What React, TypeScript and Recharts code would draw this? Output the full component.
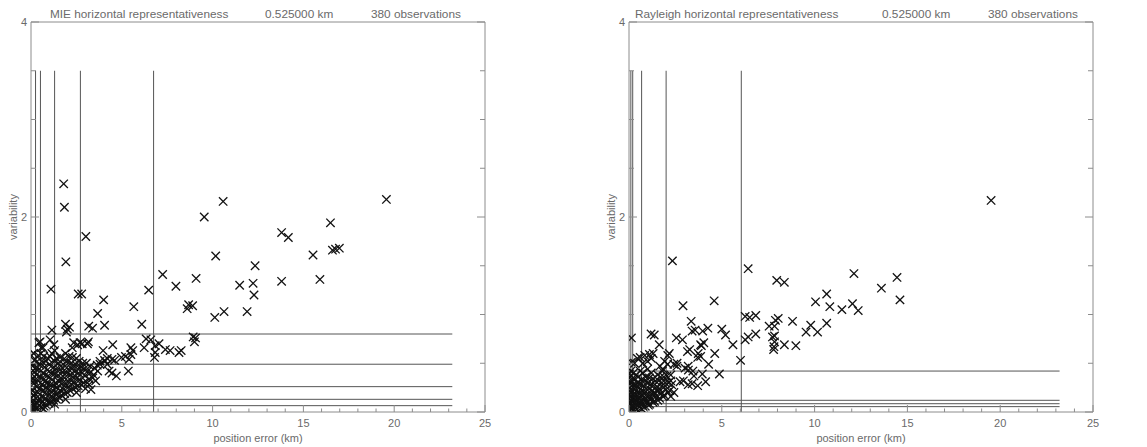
import { ScatterChart, Scatter, XAxis, YAxis, ReferenceLine } from 'recharts';

// axis ticks
const xTicks = [0, 1, 2, 3, 4, 5, 6, 7, 8, 9, 10, 11, 12, 13, 14, 15, 16, 17, 18, 19, 20, 21, 22, 23, 24, 25];
const yTicks = [0, 0.5, 1, 1.5, 2, 2.5, 3, 3.5, 4];
const xLabelStep = 5;
const yLabelStep = 2;

// reference lines (vertical ones run from 0 to lineTop, horizontal ones from 0 to lineEnd)
const lineTop = 3.5;
const lineEnd = 23.2;
const mieVertical = [0.25, 0.52, 1.3, 2.72, 6.75];
const mieHorizontal = [0.8, 0.49, 0.26, 0.13, 0.065];
const rayVertical = [0.1, 0.2, 0.68, 2.0, 6.05];
const rayHorizontal = [0.42, 0.12, 0.085, 0.055];

// MIE observations [position error, variability]
const mieOuter: [number, number][] = [
    [19.57, 2.18], [10.58, 2.16], [9.54, 2.0], [13.8, 1.84], [14.17, 1.79], [16.49, 1.94],
    [15.53, 1.61], [16.6, 1.66], [16.77, 1.67], [16.98, 1.68], [10.17, 1.6], [12.34, 1.5],
    [9.09, 1.37], [11.49, 1.3], [12.23, 1.32], [12.28, 1.2], [13.8, 1.34], [15.91, 1.36],
    [10.63, 1.03], [11.9, 1.03], [10.12, 0.97], [8.68, 1.1], [8.6, 1.06], [8.9, 1.09],
    [8.93, 0.77], [9.06, 0.76], [9.0, 0.72], [8.27, 0.63],
    [1.8, 2.34], [1.84, 2.1], [3.02, 1.8], [1.92, 1.54], [1.1, 1.26], [2.6, 1.21], [2.79, 1.21],
    [4.0, 1.15], [3.67, 1.01], [4.05, 0.89], [3.18, 0.88], [3.39, 0.86], [5.66, 1.08], [6.1, 0.9],
    [6.48, 1.25], [7.25, 1.41], [7.98, 1.29],
];
const mieMiddle: [number, number][] = [
    [1.9, 0.9], [2.0, 0.85], [2.12, 0.87], [1.95, 0.82], [1.15, 0.84], [0.44, 0.71], [0.56, 0.66],
    [1.05, 0.74], [1.26, 0.69], [1.3, 0.63], [3.11, 0.7], [2.57, 0.69], [2.82, 0.7], [2.35, 0.71],
    [3.97, 0.63], [4.5, 0.69], [5.5, 0.66], [5.6, 0.63], [5.5, 0.59], [6.23, 0.66], [6.34, 0.75],
    [6.6, 0.74], [6.84, 0.68], [7.05, 0.7], [7.4, 0.64], [7.66, 0.63], [8.15, 0.61], [6.84, 0.61],
    [6.8, 0.56], [4.98, 0.56], [5.2, 0.57], [5.4, 0.54], [4.46, 0.54], [4.2, 0.49], [4.08, 0.52],
    [3.8, 0.49], [3.67, 0.42], [3.4, 0.35], [3.2, 0.28], [3.56, 0.32], [3.3, 0.23], [4.3, 0.42],
    [4.46, 0.4], [4.7, 0.37], [5.36, 0.42], [4.05, 0.53], [4.2, 0.55], [3.65, 0.48], [3.8, 0.52],
    [4.6, 0.53], [2.27, 0.66], [2.7, 0.71], [3.16, 0.72], [0.66, 0.66], [0.5, 0.72],
];
const mieCluster: [number, number][] = [
    [0.05, 0.02], [0.1, 0.06], [0.08, 0.11], [0.12, 0.17], [0.06, 0.23], [0.15, 0.29], [0.1, 0.35], [0.2, 0.41], [0.08, 0.47], [0.18, 0.53],
    [0.3, 0.04], [0.35, 0.09], [0.28, 0.14], [0.4, 0.2], [0.33, 0.26], [0.42, 0.32], [0.3, 0.38], [0.45, 0.44], [0.34, 0.52], [0.4, 0.58],
    [0.55, 0.05], [0.62, 0.1], [0.58, 0.16], [0.7, 0.22], [0.6, 0.28], [0.72, 0.34], [0.65, 0.4], [0.75, 0.46], [0.6, 0.52], [0.7, 0.57],
    [0.85, 0.07], [0.9, 0.12], [0.82, 0.18], [0.95, 0.24], [0.88, 0.3], [1.0, 0.36], [0.9, 0.43], [1.02, 0.49], [0.92, 0.55],
    [1.1, 0.1], [1.18, 0.15], [1.12, 0.21], [1.25, 0.27], [1.15, 0.33], [1.28, 0.39], [1.2, 0.45], [1.3, 0.52], [1.15, 0.6],
    [1.4, 0.13], [1.48, 0.19], [1.42, 0.25], [1.55, 0.31], [1.45, 0.37], [1.58, 0.43], [1.5, 0.5], [1.6, 0.56],
    [1.7, 0.17], [1.78, 0.23], [1.72, 0.29], [1.85, 0.35], [1.75, 0.41], [1.88, 0.47], [1.8, 0.54], [1.9, 0.6],
    [2.0, 0.2], [2.08, 0.26], [2.02, 0.32], [2.15, 0.38], [2.05, 0.44], [2.2, 0.5], [2.1, 0.57],
    [2.3, 0.24], [2.38, 0.3], [2.32, 0.36], [2.45, 0.42], [2.35, 0.48], [2.5, 0.55],
    [2.6, 0.27], [2.68, 0.33], [2.62, 0.4], [2.75, 0.46], [2.65, 0.52],
    [2.9, 0.3], [2.98, 0.37], [2.92, 0.44], [3.05, 0.5],
    [3.2, 0.34], [3.3, 0.41], [3.25, 0.47],
    [0.02, 0.0], [0.2, 0.01], [0.15, 0.08], [0.7, 0.03], [1.3, 0.08], [1.9, 0.13], [2.5, 0.2], [3.0, 0.24],
];
const mieClusterFill: [number, number][] = [
    [0.0, 0.05], [0.02, 0.14], [0.0, 0.2], [0.03, 0.32], [0.0, 0.4], [0.05, 0.5], [0.02, 0.58],
    [0.2, 0.07], [0.22, 0.19], [0.18, 0.32], [0.24, 0.45], [0.15, 0.6],
    [0.45, 0.07], [0.5, 0.13], [0.48, 0.24], [0.52, 0.36], [0.5, 0.48], [0.55, 0.6],
    [0.72, 0.06], [0.78, 0.14], [0.8, 0.25], [0.75, 0.31], [0.8, 0.38], [0.82, 0.52],
    [1.0, 0.09], [1.05, 0.18], [1.08, 0.28], [1.1, 0.4], [1.05, 0.57],
    [1.25, 0.12], [1.32, 0.2], [1.35, 0.3], [1.38, 0.44], [1.4, 0.55],
    [1.55, 0.15], [1.6, 0.22], [1.65, 0.35], [1.65, 0.47],
    [1.85, 0.19], [1.9, 0.28], [1.95, 0.4], [1.98, 0.52],
    [2.15, 0.22], [2.22, 0.32], [2.25, 0.44], [2.28, 0.56],
    [2.45, 0.25], [2.52, 0.35], [2.55, 0.47],
    [2.78, 0.28], [2.82, 0.4], [2.85, 0.5],
    [3.1, 0.3], [3.12, 0.42], [3.45, 0.38], [3.5, 0.45],
];

// Rayleigh observations [position error, variability]
const rayOuter: [number, number][] = [
    [19.51, 2.17], [12.12, 1.42], [14.44, 1.38], [13.6, 1.27], [14.6, 1.15], [10.65, 1.21],
    [10.05, 1.13], [10.82, 1.08], [11.47, 1.05], [12.04, 1.11], [12.35, 1.04], [10.65, 0.91],
    [9.79, 0.89], [9.54, 0.82], [10.16, 0.82], [8.81, 0.93], [8.99, 0.68], [8.37, 0.69],
    [7.96, 1.35], [8.37, 1.33], [8.04, 0.96], [7.55, 0.88], [7.84, 0.88], [7.84, 0.78],
    [7.84, 0.72], [7.79, 0.64],
    [2.34, 1.55], [6.42, 1.47], [4.59, 1.14], [2.91, 1.09], [3.35, 0.93], [6.26, 0.98],
    [6.5, 0.97], [6.83, 0.99], [7.89, 0.94],
];
const rayMiddle: [number, number][] = [
    [0.13, 0.76], [1.19, 0.8], [1.36, 0.79], [1.63, 0.69], [2.55, 0.76], [2.88, 0.74], [3.4, 0.83],
    [3.56, 0.84], [3.97, 0.83], [4.25, 0.86], [5.0, 0.85], [5.2, 0.79], [5.6, 0.69], [3.9, 0.68],
    [3.15, 0.62], [3.73, 0.6], [4.62, 0.6], [2.42, 0.49], [2.58, 0.47], [2.09, 0.58], [6.01, 0.53],
    [6.26, 0.74], [6.42, 0.77], [6.83, 0.8], [7.73, 0.77], [7.81, 0.67], [0.13, 0.51], [0.6, 0.56],
    [0.85, 0.58], [1.1, 0.59], [3.2, 0.43], [3.5, 0.37], [2.75, 0.31], [3.4, 0.29], [3.7, 0.27],
    [4.13, 0.31], [4.87, 0.39], [2.25, 0.16],
    [3.27, 0.64], [3.86, 0.69], [4.03, 0.71], [3.7, 0.56], [3.86, 0.57], [4.29, 0.49], [2.17, 0.6],
    [1.92, 0.52], [2.08, 0.49], [1.66, 0.47], [1.83, 0.44], [2.59, 0.5], [3.02, 0.45], [3.19, 0.47],
    [3.44, 0.42], [3.95, 0.39], [2.93, 0.32], [3.19, 0.28], [2.25, 0.32], [2.42, 0.2],
    [0.3, 0.5], [0.45, 0.55], [1.0, 0.52], [1.2, 0.55], [1.3, 0.6], [0.75, 0.5],
];
const rayCluster: [number, number][] = [
    [0.03, 0.01], [0.08, 0.04], [0.05, 0.08], [0.12, 0.12], [0.06, 0.16], [0.1, 0.2], [0.04, 0.25], [0.12, 0.3], [0.06, 0.36], [0.1, 0.42],
    [0.22, 0.02], [0.28, 0.06], [0.2, 0.1], [0.3, 0.14], [0.25, 0.18], [0.32, 0.23], [0.22, 0.28], [0.3, 0.34], [0.24, 0.4],
    [0.42, 0.03], [0.48, 0.07], [0.4, 0.11], [0.52, 0.15], [0.45, 0.2], [0.55, 0.25], [0.44, 0.3], [0.5, 0.36],
    [0.65, 0.04], [0.7, 0.08], [0.62, 0.12], [0.75, 0.17], [0.68, 0.22], [0.78, 0.27], [0.66, 0.33], [0.74, 0.4],
    [0.88, 0.06], [0.95, 0.1], [0.86, 0.14], [1.0, 0.19], [0.92, 0.24], [1.02, 0.3], [0.9, 0.36], [1.0, 0.44],
    [1.12, 0.08], [1.18, 0.13], [1.1, 0.17], [1.25, 0.22], [1.15, 0.28], [1.28, 0.34], [1.2, 0.4],
    [1.38, 0.11], [1.45, 0.16], [1.35, 0.2], [1.5, 0.26], [1.42, 0.32], [1.55, 0.38],
    [1.65, 0.14], [1.72, 0.19], [1.62, 0.24], [1.78, 0.3], [1.7, 0.36], [1.8, 0.42],
    [1.92, 0.17], [2.0, 0.23], [1.95, 0.3], [2.05, 0.37],
    [2.2, 0.22], [2.3, 0.28], [2.25, 0.38],
];
const rayClusterFill: [number, number][] = [
    [0.0, 0.03], [0.02, 0.1], [0.0, 0.18], [0.03, 0.22], [0.0, 0.3], [0.02, 0.39],
    [0.15, 0.05], [0.16, 0.14], [0.17, 0.22], [0.15, 0.32],
    [0.35, 0.04], [0.36, 0.1], [0.38, 0.18], [0.36, 0.27], [0.38, 0.38],
    [0.55, 0.05], [0.58, 0.1], [0.6, 0.19], [0.58, 0.29], [0.6, 0.42],
    [0.8, 0.05], [0.82, 0.12], [0.84, 0.2], [0.84, 0.32],
    [1.05, 0.07], [1.05, 0.14], [1.08, 0.24], [1.1, 0.35],
    [1.3, 0.1], [1.3, 0.17], [1.32, 0.27],
    [1.55, 0.12], [1.55, 0.21], [1.6, 0.32],
    [1.82, 0.16], [1.85, 0.25], [1.88, 0.36],
    [2.1, 0.2], [2.12, 0.3],
];

const AXIS = '#8c8c8c';
const TEXT = '#6a6a6a';
const LINE = '#555';
const FONT = '"Liberation Sans", Arial, sans-serif';

const toPoints = (...sets: [number, number][][]) =>
    sets.flat().map(([x, y]) => ({ x, y }));

function Cross({ cx, cy }: any) {
    const s = 4.2;
    return (
        <g stroke="#111" strokeWidth={1.3}>
            <line x1={cx - s} y1={cy - s} x2={cx + s} y2={cy + s} />
            <line x1={cx - s} y1={cy + s} x2={cx + s} y2={cy - s} />
        </g>
    );
}

function BottomTick({ x, y, payload }: any) {
    const v = payload.value;
    const major = v % xLabelStep === 0;
    return (
        <g>
            <line x1={x} x2={x} y1={y} y2={y - (major ? 7 : 3.5)} stroke={AXIS} />
            {major && (
                <text x={x} y={y + 15} textAnchor="middle" fontSize={11} fill={TEXT} fontFamily={FONT}>{v}</text>
            )}
        </g>
    );
}

function TopTick({ x, y, payload }: any) {
    const major = payload.value % xLabelStep === 0;
    return <line x1={x} x2={x} y1={y} y2={y + (major ? 6 : 3)} stroke={AXIS} />;
}

function LeftTick({ x, y, payload }: any) {
    const v = payload.value;
    const major = v % yLabelStep === 0;
    return (
        <g>
            <line x1={x} x2={x + (major ? 8 : 5)} y1={y} y2={y} stroke={AXIS} />
            {major && (
                <text x={x - 4} y={y + 4} textAnchor="end" fontSize={11} fill={TEXT} fontFamily={FONT}>{v}</text>
            )}
        </g>
    );
}

function RightTick({ x, y, payload }: any) {
    const major = payload.value % yLabelStep === 0;
    return <line x1={x} x2={x - (major ? 8 : 5)} y1={y} y2={y} stroke={AXIS} />;
}

interface PanelProps {
    left: number;
    width: number;
    plotLeft: number;
    plotRight: number;
    title: [string, string, string];
    titleX: [number, number, number];
    points: { x: number; y: number }[];
    vertical: number[];
    horizontal: number[];
}

const H = 447;
const PLOT_TOP = 22;
const PLOT_BOTTOM = 412;

function Panel({ left, width, plotLeft, plotRight, title, titleX, points, vertical, horizontal }: PanelProps) {
    const margin = {
        top: PLOT_TOP - 10,
        bottom: H - PLOT_BOTTOM - 30,
        left: plotLeft - 25,
        right: width - plotRight - 10,
    };
    const cx = (plotLeft + plotRight) / 2;
    const cy = (PLOT_TOP + PLOT_BOTTOM) / 2;
    return (
        <div style={{ position: 'absolute', left, top: 0, width, height: H }}>
            <ScatterChart width={width} height={H} margin={margin}>
                <XAxis xAxisId={0} type="number" dataKey="x" domain={[0, 25]} ticks={xTicks} interval={0}
                    height={30} tickSize={0} tickMargin={0} tickLine={false}
                    axisLine={{ stroke: AXIS }} tick={<BottomTick />} allowDataOverflow />
                <XAxis xAxisId="top" orientation="top" type="number" domain={[0, 25]} ticks={xTicks} interval={0}
                    height={10} tickSize={0} tickMargin={0} tickLine={false}
                    axisLine={{ stroke: AXIS }} tick={<TopTick />} allowDataOverflow />
                <YAxis yAxisId={0} type="number" dataKey="y" domain={[0, 4]} ticks={yTicks} interval={0}
                    width={25} tickSize={0} tickMargin={0} tickLine={false}
                    axisLine={{ stroke: AXIS }} tick={<LeftTick />} allowDataOverflow />
                <YAxis yAxisId="right" orientation="right" type="number" domain={[0, 4]} ticks={yTicks} interval={0}
                    width={10} tickSize={0} tickMargin={0} tickLine={false}
                    axisLine={{ stroke: AXIS }} tick={<RightTick />} allowDataOverflow />
                {vertical.map((v) => (
                    <ReferenceLine key={'v' + v} segment={[{ x: v, y: 0 }, { x: v, y: lineTop }]} stroke={LINE} strokeWidth={1} />
                ))}
                {horizontal.map((h) => (
                    <ReferenceLine key={'h' + h} segment={[{ x: 0, y: h }, { x: lineEnd, y: h }]} stroke={LINE} strokeWidth={1} />
                ))}
                <Scatter data={points} shape={<Cross />} isAnimationActive={false} />
            </ScatterChart>
            <svg width={width} height={H} style={{ position: 'absolute', left: 0, top: 0, pointerEvents: 'none' }}>
                {title.map((t, i) => (
                    <text key={i} x={titleX[i]} y={18} fontSize={11.8} fill={TEXT} fontFamily={FONT}>{t}</text>
                ))}
                <text x={cx} y={442} textAnchor="middle" fontSize={11} fill={TEXT} fontFamily={FONT}>position error (km)</text>
                <text x={plotLeft - 14} y={cy} textAnchor="middle" fontSize={11} fill={TEXT} fontFamily={FONT}
                    transform={`rotate(-90 ${plotLeft - 14} ${cy})`}>variability</text>
            </svg>
        </div>
    );
}

export default function App() {
    return (
        <div style={{ position: 'absolute', left: 0, top: 0, width: 1147, height: H, background: '#fff' }}>
            <Panel left={0} width={573} plotLeft={31} plotRight={485}
                title={['MIE horizontal representativeness', '0.525000 km', '380 observations']}
                titleX={[50, 265, 371]}
                points={toPoints(mieOuter, mieMiddle, mieCluster, mieClusterFill)}
                vertical={mieVertical} horizontal={mieHorizontal} />
            <Panel left={573} width={574} plotLeft={56} plotRight={520}
                title={['Rayleigh horizontal representativeness', '0.525000 km', '380 observations']}
                titleX={[62, 309, 415]}
                points={toPoints(rayOuter, rayMiddle, rayCluster, rayClusterFill)}
                vertical={rayVertical} horizontal={rayHorizontal} />
        </div>
    );
}
